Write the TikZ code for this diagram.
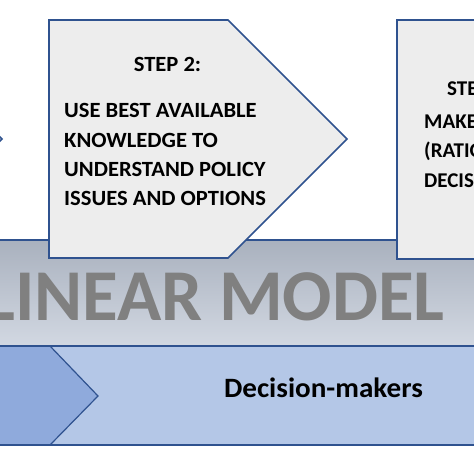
\documentclass[tikz,border=0pt]{standalone}
\usepackage{fontspec}
\setmainfont{Carlito}
\newfontfamily\widefont{Carlito}[FakeStretch=1.04]
\definecolor{edge}{HTML}{2F528F}
\definecolor{boxfill}{HTML}{EDEDED}
\definecolor{bandtop}{HTML}{A9B1BE}
\definecolor{bandbot}{HTML}{D2D8E2}
\definecolor{lightblue}{HTML}{B4C7E7}
\definecolor{darkblue}{HTML}{8FAADC}
\definecolor{modelgray}{HTML}{808080}
\tikzset{
  stepshape/.style={draw=edge, line width=1.6pt, fill=boxfill, line join=miter},
  bandshape/.style={draw=edge, line width=1.2pt},
  steptext/.style={font=\widefont\fontsize{21.7}{25}\selectfont\bfseries, text=black, inner sep=0pt, anchor=base west},
  steptitle/.style={font=\widefont\fontsize{21.7}{25}\selectfont\bfseries, text=black, inner sep=0pt, anchor=base},
  stepthree/.style={font=\fontsize{21}{25}\selectfont\bfseries, text=black, inner sep=0pt, anchor=base west},
}
\begin{document}
\begin{tikzpicture}[x=1pt,y=-1pt]
\useasboundingbox (0,0) rectangle (474,474);
\clip (0,0) rectangle (474,474);
\fill[white] (0,0) rectangle (474,474);
% gray band
\shade[top color=bandtop, bottom color=bandbot] (-5,240) rectangle (480,346);
\draw[bandshape] (-5,240) -- (480,240);
% blue band
\fill[lightblue] (-5,346) rectangle (480,445);
\filldraw[fill=darkblue, draw=edge, line width=1.2pt] (-5,346) -- (50,346) -- (98,396) -- (50,445) -- (-5,445);
\draw[bandshape] (-5,346) -- (480,346);
\draw[bandshape] (-5,445) -- (480,445);
% step 1 tip
\filldraw[stepshape] (-120,20) -- (-117,20) -- (2,139) -- (-117,258) -- (-120,258) -- cycle;
% step 2
\filldraw[stepshape] (49,20) -- (228,20) -- (347,139) -- (228,258) -- (49,258) -- cycle;
% step 3
\filldraw[stepshape] (397,20) -- (490,20) -- (490,259) -- (397,259) -- cycle;
% texts
\node[steptitle] (t2) at (167.5,71) {STEP 2:};
\node[steptext] (l21) at (64,117) {USE BEST AVAILABLE};
\node[steptext] (l22) at (64,147) {KNOWLEDGE TO};
\node[steptext] (l23) at (64,176) {UNDERSTAND POLICY};
\node[steptext] (l24) at (64,205) {ISSUES AND OPTIONS};
\node[stepthree] (t3) at (447,95) {STEP 3:};
\node[stepthree] (l31) at (424,128) {MAKE};
\node[stepthree] (l32) at (424,157) {(RATIONAL)};
\node[stepthree] (l33) at (424,187) {DECISIONS};
\node[font=\fontsize{73}{80}\selectfont\bfseries, text=modelgray, inner sep=0pt, anchor=base east] (model) at (445,320) {LINEAR MODEL};
\node[font=\widefont\fontsize{28}{32}\selectfont\bfseries, text=black, inner sep=0pt, anchor=base] (dm) at (323.5,397) {Decision-makers};
\end{tikzpicture}
\end{document}
